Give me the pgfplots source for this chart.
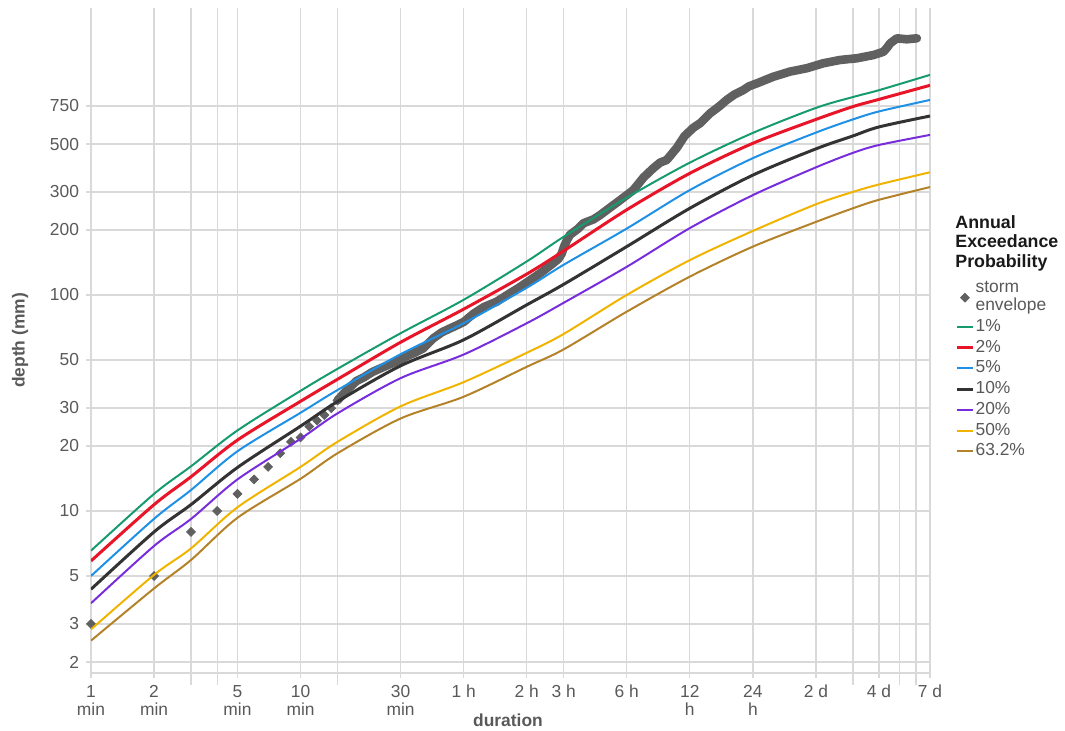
\documentclass[border=0pt]{standalone}
\usepackage{fontspec}
\setmainfont{Liberation Sans}
\usepackage{pgfplots}
\usepackage{pgfplotstable}
\pgfplotsset{compat=1.18}
\definecolor{cgreen}{RGB}{22,155,110}
\definecolor{cred}{RGB}{232,20,40}
\definecolor{cblue}{RGB}{30,144,230}
\definecolor{cblack}{RGB}{51,51,51}
\definecolor{cpurple}{RGB}{120,45,220}
\definecolor{cyellow}{RGB}{240,180,0}
\definecolor{cbrown}{RGB}{180,130,40}
\definecolor{cstorm}{RGB}{96,96,96}
\definecolor{gridgrey}{RGB}{217,217,217}
\definecolor{textgrey}{RGB}{89,89,89}

\pgfplotstableread{
dur  p1   p2   p5   p10  p20  p50  p63
1    6.55 5.87 5.0  4.34 3.74 2.83 2.51
2    12.0 10.7 9.2  8.0  6.89 5.06 4.38
3    16.1 14.4 12.5 10.7 9.18 6.71 5.93
5    23.6 21.3 18.9 15.9 14.0 10.4 9.3
10   36.0 32.2 28.5 24.7 21.6 16.0 14.1
15   45.5 40.7 36.3 32.1 28.3 20.9 18.5
30   66.5 60.4 53.2 47.0 41.2 30.5 26.8
60   95   86   74   62   53   39.5 33.8
120  143  125  108  90   74   54   46.5
180  186  160  138  112  92   66   56
360  282  248  203  167.5 135 100  83.7
720  410  366  306  252  204  145  121.6
1440 563  504  430  359  290  198  167.5
2880 735  650  565  475  390  263  218
4320 825  745  650  545  455  300  252
5760 888  805  708  600  495  325  276
10080 1045 935 800  674  551  370  316
}\idf

\pgfplotstableread{
dur depth
1 3.0
2 5.0
3 8.0
4 10.0
5 12.0
6 14.0
7 16.0
8 18.5
9 20.9
10 21.9
11 24.6
12 26.2
13 27.8
14 29.9
15 32.5
}\stormpts

\pgfplotstableread{
dur depth
15 32.5
16.5 36
18.5 40
20 41.5
22 44
25 46.5
27 48
30 50
32 52
35 54
38.5 56.6
43 63
47 67
50 69
55 72
60 75
67 82
75 88
86 93
100 102
110 108
121 115
139 126
160 140
170 147
176 155
181 168
187 180
193 190
210 202
224 215
250 224
268 234
300 254
330 272
360 290
387 306
433 350
480 385
519 410
559 422
624 480
680 545
749 595
806 624
900 694
1000 750
1080 800
1170 845
1296 889
1380 925
1505 955
1805 1025
2165 1082
2605 1122
3125 1183
3755 1225
4505 1247
5415 1291
6045 1337
6300 1400
6505 1462
7005 1543
7815 1527
8725 1543
}\stormline

\begin{document}
\begin{tikzpicture}
\begin{axis}[
  at={(0pt,0pt)}, anchor=south west,
  scale only axis, width=419.5pt, height=332.5pt,
  xmode=log, ymode=log,
  xmin=1, xmax=10080, ymin=1.778, ymax=2132,
  clip mode=individual,
  axis x line*=bottom, axis y line*=left,
  axis line style={draw=gridgrey, line width=0.6pt},
  xtick={1,2,5,10,30,60,120,180,360,720,1440,2880,5760,10080},
  xticklabels={{1\\min},{2\\min},{5\\min},{10\\min},{30\\min},{1 h},{2 h},{3 h},{6 h},{12\\h},{24\\h},{2 d},{4 d},{7 d}},
  minor xtick={3,4,15,4320,7200,8640},
  ytick={2,3,5,10,20,30,50,100,200,300,500,750},
  yticklabels={2,3,5,10,20,30,50,100,200,300,500,750},
  yminorticks=false, yminorgrids=false,
  xmajorgrids, xminorgrids, ymajorgrids,
  grid style={draw=gridgrey, line width=0.6pt},
  major grid style={draw=gridgrey, line width=0.6pt},
  minor grid style={draw=gridgrey, line width=0.6pt},
  tick align=outside,
  major tick length=2.5pt, minor tick length=6pt,
  tick style={draw=gridgrey, line width=0.6pt},
  xticklabel style={align=center, font=\fontsize{8.7pt}{9pt}\selectfont, text=textgrey},
  yticklabel style={font=\fontsize{8.7pt}{9pt}\selectfont, text=textgrey},
  xlabel={\textbf{duration}},
  ylabel={\textbf{depth (mm)}},
  xlabel style={at={(axis description cs:0.497,-0.0707)}, anchor=center, font=\fontsize{8.7pt}{9pt}\selectfont, text=textgrey},
  ylabel style={at={(axis description cs:-0.0846,0.5)}, anchor=center, font=\fontsize{8.7pt}{9pt}\selectfont, text=textgrey},
  legend image code/.code={\draw[mark repeat=2,mark phase=2,#1] plot coordinates {(0pt,0pt) (4pt,0pt) (8pt,0pt)};},
  legend style={at={(rel axis cs:1.0298,0.591)}, anchor=north west, draw=none, fill=none,
    font=\fontsize{8.7pt}{9pt}\selectfont, text=textgrey,
    cells={anchor=west, align=left}, inner sep=0pt, row sep=1.6pt,
    nodes={inner sep=0.6pt}},
]
\addplot[only marks, mark=square*, mark size=1.55pt, mark options={rotate=45, fill=cstorm, draw=cstorm}] table[x=dur, y=depth] {\stormpts};
\addlegendentry{storm\\envelope}
\addplot[forget plot, cstorm, line width=4.3pt, line join=round, line cap=round] table[x=dur, y=depth] {\stormline};
\addplot[cgreen, line width=1pt, smooth] table[x=dur, y=p1] {\idf};
\addlegendentry{1\%}
\addplot[cred, line width=1.5pt, smooth] table[x=dur, y=p2] {\idf};
\addlegendentry{2\%}
\addplot[cblue, line width=1pt, smooth] table[x=dur, y=p5] {\idf};
\addlegendentry{5\%}
\addplot[cblack, line width=1.5pt, smooth] table[x=dur, y=p10] {\idf};
\addlegendentry{10\%}
\addplot[cpurple, line width=1pt, smooth] table[x=dur, y=p20] {\idf};
\addlegendentry{20\%}
\addplot[cyellow, line width=1pt, smooth] table[x=dur, y=p50] {\idf};
\addlegendentry{50\%}
\addplot[cbrown, line width=1pt, smooth] table[x=dur, y=p63] {\idf};
\addlegendentry{63.2\%}
\node[anchor=north west, align=left, inner sep=0pt, font=\bfseries\fontsize{8.9pt}{9.75pt}\selectfont, text=black!90] at (rel axis cs:1.0298,0.6885) {Annual\\Exceedance\\Probability};
\end{axis}
\pgfresetboundingbox
\path[use as bounding box] (-45.5pt,-29pt) rectangle (487pt,336.5pt);
\end{tikzpicture}
\end{document}
